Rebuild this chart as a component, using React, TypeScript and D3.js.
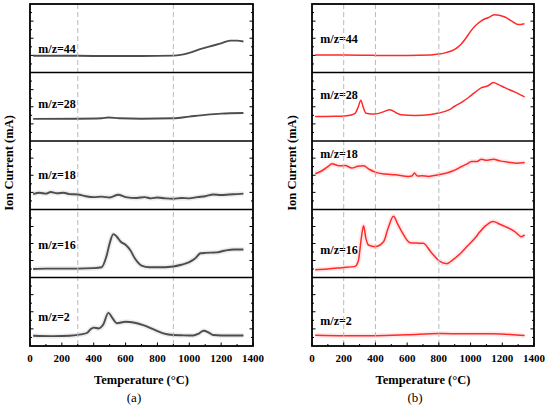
import React from "react";
import * as d3 from "d3";

type P = [number, number];

// ---- data (temperature °C, relative ion current in subplot units 0..8) ----
const labels = ["m/z=44", "m/z=28", "m/z=18", "m/z=16", "m/z=2"];
const xTicks = [0, 200, 400, 600, 800, 1000, 1200, 1400];
const dashedA = [300, 900];
const dashedB = [200, 400, 800];

const a44: P[] = [[20,1.95],[300,1.95],[500,1.92],[700,1.92],[900,1.97],[1000,2.3],[1067,2.73],[1150,3.15],[1200,3.4],[1256,3.72],[1300,3.72],[1340,3.62]];
const a28: P[] = [[20,2.58],[300,2.6],[450,2.65],[492,2.75],[560,2.65],[700,2.6],[900,2.65],[1000,2.85],[1100,3.05],[1200,3.2],[1340,3.27]];
const a18: P[] = [[20,1.8],[60,1.95],[100,1.85],[130,2.05],[170,1.9],[210,1.95],[250,1.8],[300,1.75],[350,1.55],[400,1.45],[450,1.5],[500,1.4],[554,1.72],[600,1.45],[670,1.35],[720,1.45],[760,1.3],[800,1.4],[850,1.3],[900,1.25],[950,1.35],[1000,1.3],[1050,1.45],[1100,1.55],[1150,1.75],[1200,1.7],[1250,1.75],[1300,1.8],[1340,1.85]];
const a16: P[] = [[20,1.0],[100,1.05],[200,1.05],[300,1.05],[400,1.1],[450,1.2],[480,2.5],[500,4.0],[523,5.1],[545,4.8],[570,4.2],[600,3.85],[630,3.2],[660,2.2],[700,1.4],[750,1.2],[800,1.2],[900,1.3],[950,1.5],[1000,1.8],[1040,2.3],[1070,2.85],[1100,2.9],[1170,2.95],[1220,3.15],[1280,3.3],[1340,3.3]];
const a2: P[] = [[20,1.2],[150,1.15],[250,1.2],[320,1.35],[360,1.55],[380,1.95],[400,2.15],[430,2.05],[460,2.5],[492,3.87],[520,3.2],[545,2.65],[600,2.83],[650,2.75],[711,2.44],[780,1.9],[837,1.48],[900,1.28],[950,1.25],[1025,1.22],[1060,1.45],[1090,1.78],[1120,1.6],[1150,1.28],[1250,1.22],[1340,1.22]];

const b44: P[] = [[20,2.03],[200,2.03],[400,2.0],[600,2.0],[750,2.05],[800,2.15],[850,2.35],[900,2.7],[940,3.3],[970,4.0],[1000,4.8],[1030,5.45],[1070,6.07],[1110,6.4],[1150,6.73],[1180,6.7],[1220,6.45],[1260,6.0],[1300,5.6],[1340,5.7]];
const b28: P[] = [[20,2.87],[150,2.88],[220,2.95],[270,3.2],[290,3.9],[308,4.77],[322,4.0],[340,3.25],[398,3.15],[450,3.4],[492,3.66],[530,3.3],[560,3.07],[650,2.98],[750,3.1],[800,3.27],[860,3.6],[900,4.06],[950,4.6],[985,5.05],[1030,5.7],[1069,6.23],[1110,6.45],[1143,6.82],[1180,6.55],[1216,6.23],[1280,5.7],[1341,5.16]];
const b18: P[] = [[20,4.18],[60,4.5],[100,5.0],[126,5.34],[170,5.1],[209,5.14],[251,4.84],[290,5.05],[325,5.1],[360,4.7],[398,4.37],[461,4.14],[524,4.06],[608,3.86],[630,3.9],[646,4.25],[665,3.9],[692,3.94],[734,3.86],[797,4.06],[860,4.33],[900,4.6],[943,5.02],[975,5.3],[1006,5.6],[1040,5.62],[1069,5.88],[1100,5.75],[1143,5.88],[1190,5.65],[1237,5.53],[1290,5.4],[1341,5.49]];
const b16: P[] = [[20,0.92],[100,1.0],[189,1.16],[272,1.31],[293,2.03],[310,4.5],[325,6.09],[340,4.6],[356,3.82],[398,3.62],[451,4.2],[480,5.8],[514,7.2],[540,6.3],[566,5.41],[618,4.1],[660,4.05],[702,4.02],[750,3.0],[797,2.03],[849,1.63],[890,2.1],[936,2.83],[980,3.7],[1027,4.62],[1060,5.4],[1090,6.01],[1143,6.6],[1180,6.3],[1216,6.01],[1279,5.41],[1320,4.8],[1341,5.01]];
const b2: P[] = [[20,1.25],[200,1.2],[400,1.2],[600,1.3],[800,1.45],[1000,1.42],[1140,1.42],[1250,1.35],[1341,1.22]];

const seriesA = [a44, a28, a18, a16, a2];
const seriesB = [b44, b28, b18, b16, b2];

// ---- layout ----
const W = 550, H = 411;
const rowEdges = [4, 72.5, 141, 209.5, 277.5, 346];
const labelOffA = [44.3, 31.6, 33.3, 35, 39.4];
const labelOffB = [34.3, 22.7, 12.3, 40.7, 43];
const haloA = [false, false, true, true, true];
const haloB = [false, false, true, true, true];
const serif = "Liberation Serif, Times New Roman, Times, serif";

interface PanelProps {
  x0: number; x1: number; series: P[][]; dashed: number[]; color: string; lw: number;
  labelOff: number[]; halo: boolean[]; tag: string; tagX: number; yLabelX: number;
}

function Panel(p: PanelProps) {
  const x = d3.scaleLinear().domain([0, 1400]).range([p.x0, p.x1]);
  const minorX = d3.range(0, 1401, 100);
  return (
    <g>
      {p.series.map((data, i) => {
        const top = rowEdges[i], bot = rowEdges[i + 1];
        const y = d3.scaleLinear().domain([0, 8]).range([bot, top]);
        const line = d3.line<P>().x(d => x(d[0])).y(d => y(d[1])).curve(d3.curveMonotoneX);
        const yt = d3.range(1, 8);
        return (
          <g key={i}>
            {p.halo[i] && (
              <path d={line(data) || ""} fill="none" stroke={p.color} strokeOpacity={0.1} strokeWidth={5} />
            )}
            <path d={line(data) || ""} fill="none" stroke={p.color} strokeWidth={p.lw} strokeLinejoin="round" />
            {yt.map(t => {
              const len = t % 2 === 0 ? 3.5 : 2;
              return (
                <g key={t}>
                  <line x1={p.x0} x2={p.x0 + len} y1={y(t)} y2={y(t)} stroke="#000" strokeWidth={1} />
                  <line x1={p.x1} x2={p.x1 - len} y1={y(t)} y2={y(t)} stroke="#000" strokeWidth={1} />
                </g>
              );
            })}
            <text x={p.x0 + 8.3} y={top + p.labelOff[i]} dy="0.35em" fontFamily={serif}
              fontWeight="bold" fontSize={12} fill="#000">{labels[i]}</text>
          </g>
        );
      })}
      {p.dashed.map(d => (
        <line key={d} x1={x(d)} x2={x(d)} y1={rowEdges[0]} y2={rowEdges[5]} stroke="#b8b8b8"
          strokeWidth={1} strokeDasharray="5,3" />
      ))}
      {rowEdges.slice(1, 5).map((e, i) => (
        <line key={i} x1={p.x0} x2={p.x1} y1={e} y2={e} stroke="#000" strokeWidth={1.6} />
      ))}
      {minorX.map(t => (
        <line key={t} x1={x(t)} x2={x(t)} y1={rowEdges[5]} y2={rowEdges[5] - (t % 200 === 0 ? 3.5 : 2)}
          stroke="#000" strokeWidth={1} />
      ))}
      <rect x={p.x0} y={rowEdges[0]} width={p.x1 - p.x0} height={rowEdges[5] - rowEdges[0]}
        fill="none" stroke="#000" strokeWidth={1.8} />
      {xTicks.map(t => (
        <text key={t} x={x(t)} y={358.5} dy="0.35em" textAnchor="middle" fontFamily={serif}
          fontWeight="bold" fontSize={11} fill="#000">{t}</text>
      ))}
      <text x={(p.x0 + p.x1) / 2} y={380} dy="0.35em" textAnchor="middle" fontFamily={serif}
        fontWeight="bold" fontSize={12.5} fill="#000">Temperature (°C)</text>
      <text x={p.tagX} y={397.5} dy="0.35em" textAnchor="middle" fontFamily={serif}
        fontSize={13} fill="#000">{p.tag}</text>
      <text transform={`translate(${p.yLabelX},163) rotate(-90)`} dy="0.35em" textAnchor="middle"
        fontFamily={serif} fontWeight="bold" fontSize={12.5} fill="#000">Ion Current (mA)</text>
    </g>
  );
}

export default function App() {
  return (
    <svg width={W} height={H} style={{ position: "absolute", left: 0, top: 0, background: "#fff" }}>
      <rect width={W} height={H} fill="#fff" />
      <Panel x0={30} x1={253} series={seriesA} dashed={dashedA} color="#4d4d4d" lw={1.9}
        labelOff={labelOffA} halo={haloA} tag="(a)" tagX={134} yLabelX={8.5} />
      <Panel x0={312} x1={534} series={seriesB} dashed={dashedB} color="#ff2a2a" lw={1.5}
        labelOff={labelOffB} halo={haloB} tag="(b)" tagX={415} yLabelX={291.5} />
    </svg>
  );
}
